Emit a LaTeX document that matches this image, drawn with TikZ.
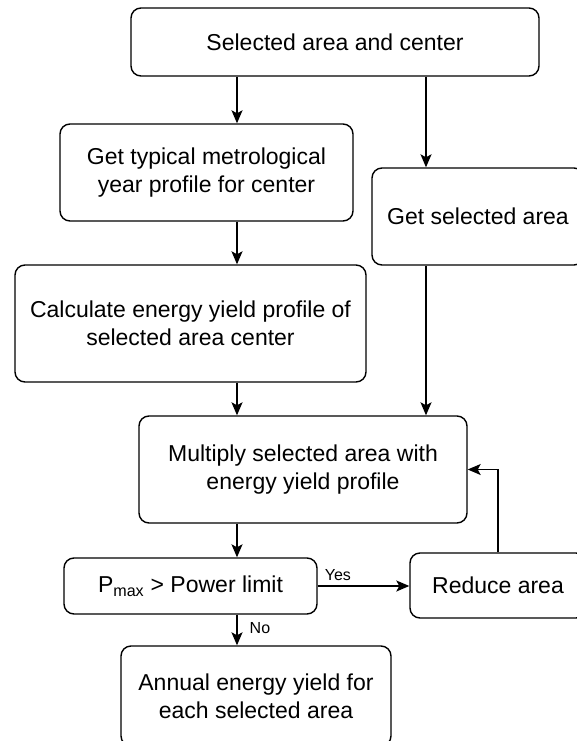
\documentclass[tikz,border=0pt]{standalone}
\usepackage{fontspec}
\setmainfont{Liberation Sans}
\usetikzlibrary{arrows.meta}

\begin{document}
\begin{tikzpicture}
  [ x=1pt, y=-1pt, line width=1.4pt, -{Stealth[length=13pt,width=11pt,inset=3pt]},
    box/.style={draw, rounded corners=10pt, align=center, inner sep=0pt,
      font=\fontsize{23}{28}\selectfont},
    tag/.style={inner sep=5pt, font=\fontsize{16}{19}\selectfont}]
	\useasboundingbox (0,0) rectangle (577,741);
	\clip (0,0) rectangle (577,741);
	\coordinate (left lane) at (237,0);
	\coordinate (right lane) at (426,0);

	\node [name=start, box, minimum width=408pt, minimum height=68pt] at (335,42) {Selected area and center};
	\node [name=tmy, box, minimum width=293pt, minimum height=97pt] at (206.5,172.5) {Get typical metrological\\year profile for center};
	\node [name=area, box, minimum width=212pt, minimum height=97pt] at (478,216.5) {Get selected area};
	\node [name=yield, box, minimum width=351pt, minimum height=117pt] at (190.5,323.5) {Calculate energy yield profile of\\selected area center};
	\node [name=multiply, box, minimum width=328pt, minimum height=107pt] at (303,469.5) {Multiply selected area with\\energy yield profile};
	\node [name=check, box, minimum width=253pt, minimum height=56pt] at (190.5,586) {P\textsubscript{max} > Power limit};
	\node [name=reduce, box, minimum width=176pt, minimum height=65pt] at (498,585.5) {Reduce area};
	\node [name=annual, box, minimum width=270pt, minimum height=100pt] at (256,696) {Annual energy yield for\\each selected area};

	\path (start.south -| left lane) edge (tmy.north -| left lane)
				(start.south -| right lane) edge (area.north -| right lane)
				(tmy.south -| left lane) edge (yield.north -| left lane)
				(yield.south -| left lane) edge (multiply.north -| left lane)
				(area.south -| right lane) edge (multiply.north -| right lane)
				(multiply.south -| left lane) edge (check.north -| left lane)
				(check.east) edge node [name=yes, tag, pos=0.22, above] {Yes} (check.east -| reduce.west)
				(check.south -| left lane) edge node [name=no, tag, right, xshift=7pt, yshift=2pt] {No} (annual.north -| left lane);
	\draw (reduce.north) |- (multiply.east);
\end{tikzpicture}
\end{document}
